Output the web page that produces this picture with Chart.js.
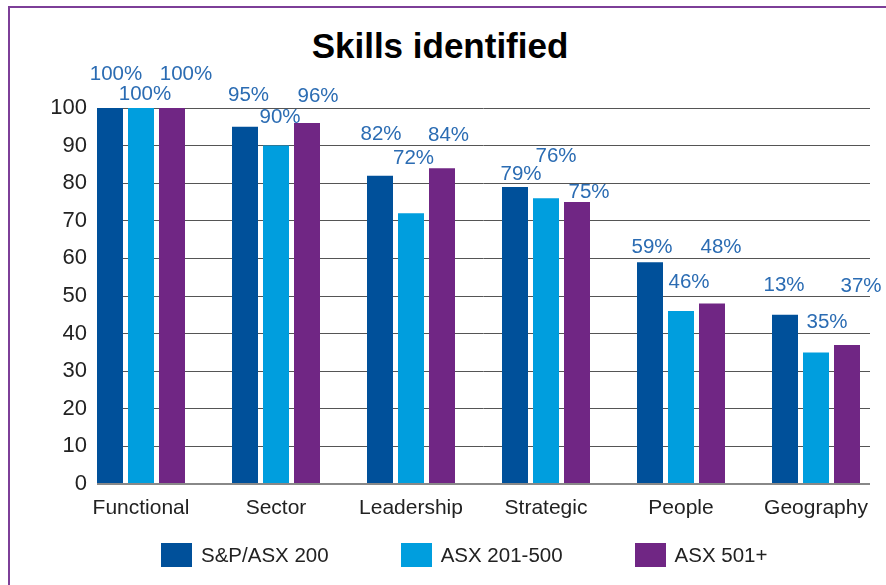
<!DOCTYPE html>
<html>
<head>
<meta charset="utf-8">
<script src="https://cdn.jsdelivr.net/npm/chart.js@4.4.1/dist/chart.umd.min.js"></script>
<style>
  html, body { margin: 0; padding: 0; background: #fff; overflow: hidden; }
  body { width: 886px; height: 585px; position: relative; font-family: "Liberation Sans", Arial, sans-serif; }
  .frame { position: absolute; left: 8px; top: 6px; width: 900px; height: 600px;
           border-left: 2px solid #7d3f98; border-top: 2px solid #7d3f98; }
  .title { position: absolute; left: 0; width: 880px; top: 28px; text-align: center;
           font: bold 35px/35px "Liberation Sans", Arial, sans-serif; color: #000; }
  canvas { position: absolute; left: 0; top: 0; }
  .legend { position: absolute; left: 161px; top: 543px; display: flex; align-items: center;
            font-size: 20.5px; color: #222; }
  .legend .item { display: flex; align-items: center; margin-right: 72px; }
  .legend .item:last-child { margin-right: 0; }
  .legend .box { width: 31px; height: 24px; margin-right: 9px; }
</style>
</head>
<body>
<div class="frame"></div>
<div class="title">Skills identified</div>
<canvas id="chart" width="886" height="585"></canvas>
<div class="legend" id="legend"></div>
<script>
// 数据
const categories = ['Functional', 'Sector', 'Leadership', 'Strategic', 'People', 'Geography'];
const seriesNames = ['S&P/ASX 200', 'ASX 201-500', 'ASX 501+'];
const sp200 = [100, 95, 82, 79, 59, 45];
const asx201 = [100, 90, 72, 76, 46, 35];
const asx501 = [100, 96, 84, 75, 48, 37];
const sp200Labels = ['100%', '95%', '82%', '79%', '59%', '13%'];
const asx201Labels = ['100%', '90%', '72%', '76%', '46%', '35%'];
const asx501Labels = ['100%', '96%', '84%', '75%', '48%', '37%'];
const yTicks = [0, 10, 20, 30, 40, 50, 60, 70, 80, 90, 100];

// 样式
const COLORS = ['#00509a', '#009ede', '#702684'];
const LABEL_COLOR = '#2b6cb3';
const TEXT_COLOR = '#222';
const FONT = '"Liberation Sans", Arial, sans-serif';

// 数值标签相对柱顶的偏移 [dx, dy]（手工摆放）
const labelNudges = [
  [[6, -34], [3.5, -31], [1, -41], [6, -13], [2, -15], [-1, -29]],
  [[4, -13.5], [4, -28.5], [2.5, -55], [10, -42], [8, -28.5], [11, -30]],
  [[14, -34], [11, -27], [6.5, -33], [12, -10], [9, -56], [14, -59]],
];

const values = [sp200, asx201, asx501];
const valueLabels = [sp200Labels, asx201Labels, asx501Labels];

// 图例
const legendEl = document.getElementById('legend');
seriesNames.forEach((name, i) => {
  const item = document.createElement('div');
  item.className = 'item';
  item.innerHTML = `<span class="box" style="background:${COLORS[i]}"></span><span>${name.replace('&', '&amp;')}</span>`;
  legendEl.appendChild(item);
});

/**
 * 柱顶数值标签
 */
const valueLabelPlugin = {
  id: 'valueLabels',
  afterDatasetsDraw(chart) {
    const ctx = chart.ctx;
    ctx.save();
    ctx.font = `20.5px ${FONT}`;
    ctx.fillStyle = LABEL_COLOR;
    ctx.textAlign = 'center';
    ctx.textBaseline = 'middle';
    chart.data.datasets.forEach((ds, di) => {
      chart.getDatasetMeta(di).data.forEach((bar, i) => {
        const [dx, dy] = labelNudges[di][i];
        ctx.fillText(valueLabels[di][i], bar.x + dx, bar.y + dy);
      });
    });
    ctx.restore();
  },
};

// 分组中心在 x=141 起，间距 135px；绘图区 97..870
const xMin = -(141 - 97) / 135;
const xMax = (870 - 141) / 135;

new Chart(document.getElementById('chart'), {
  type: 'bar',
  data: {
    datasets: values.map((vals, di) => ({
      label: seriesNames[di],
      data: vals.map((v, i) => ({ x: i, y: v })),
      backgroundColor: COLORS[di],
      borderWidth: 0,
      barPercentage: 26 / 31,
      categoryPercentage: 93 / 135,
    })),
  },
  options: {
    responsive: false,
    devicePixelRatio: 1,
    animation: false,
    layout: { padding: { left: 52, right: 16, top: 108, bottom: 51 } },
    plugins: {
      legend: { display: false },
      title: { display: false },
      tooltip: { enabled: false },
    },
    scales: {
      x: {
        type: 'linear',
        offset: false,
        min: xMin,
        max: xMax,
        afterBuildTicks: (axis) => { axis.ticks = categories.map((_, i) => ({ value: i })); },
        afterFit: (axis) => { axis.height = 50; },
        grid: { display: false, drawTicks: false },
        border: { display: false },
        ticks: {
          color: TEXT_COLOR,
          font: { family: FONT, size: 21 },
          padding: 12,
          maxRotation: 0,
          autoSkip: false,
          callback: (v) => categories[v] ?? '',
        },
      },
      y: {
        min: 0,
        max: 100,
        afterBuildTicks: (axis) => { axis.ticks = yTicks.map(v => ({ value: v })); },
        afterFit: (axis) => { axis.width = 45; },
        border: { display: false },
        grid: {
          drawTicks: false,
          color: (c) => c.tick && c.tick.value === 0 ? '#888' : '#555',
          lineWidth: (c) => c.tick && c.tick.value === 0 ? 2 : 1,
        },
        ticks: {
          color: TEXT_COLOR,
          font: { family: FONT, size: 22 },
          padding: 10,
        },
      },
    },
  },
  plugins: [valueLabelPlugin],
});
</script>
</body>
</html>
